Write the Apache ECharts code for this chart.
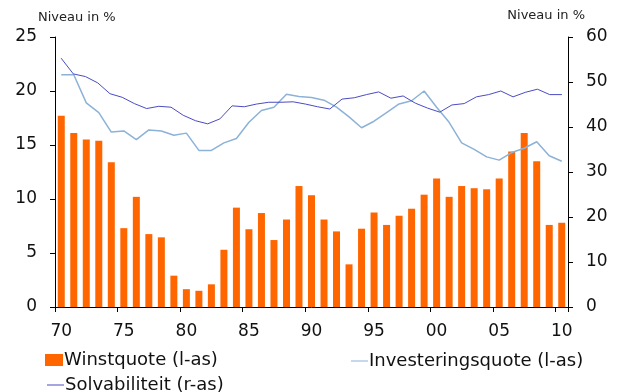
<!DOCTYPE html>
<html>
<head>
<meta charset="utf-8">
<script src="https://cdn.jsdelivr.net/npm/echarts@6/dist/echarts.min.js"></script>
<style>
  html, body { margin: 0; padding: 0; background: #ffffff; }
  #chart { width: 617px; height: 392px; }
</style>
</head>
<body>
<div id="chart"></div>
<script>
// Jaren 1970-2010 (winst- en investeringsquote)
const years = ['70','71','72','73','74','75','76','77','78','79',
               '80','81','82','83','84','85','86','87','88','89',
               '90','91','92','93','94','95','96','97','98','99',
               '00','01','02','03','04','05','06','07','08','09','10'];

// Solvabiliteit loopt een jaar langer door (1970-2011)
const solvYears = ['70','71','72','73','74','75','76','77','78','79',
                   '80','81','82','83','84','85','86','87','88','89',
                   '90','91','92','93','94','95','96','97','98','99',
                   '00','01','02','03','04','05','06','07','08','09','10','11'];

// Winstquote, % (linkeras)
const winstquote = [17.7, 16.1, 15.5, 15.4, 13.4, 7.3, 10.2, 6.75, 6.45, 2.9,
                    1.65, 1.5, 2.1, 5.3, 9.2, 7.2, 8.7, 6.2, 8.1, 11.2,
                    10.35, 8.1, 7.0, 3.95, 7.25, 8.75, 7.6, 8.45, 9.1, 10.4,
                    11.9, 10.2, 11.2, 11.0, 10.9, 11.9, 14.4, 16.1, 13.5, 7.6, 7.8];

// Investeringsquote, % (linkeras)
const investeringsquote = [21.5, 21.5, 18.9, 18.0, 16.2, 16.3, 15.5, 16.4, 16.3, 15.9,
                           16.1, 14.5, 14.5, 15.2, 15.6, 17.1, 18.2, 18.5, 19.7, 19.5,
                           19.4, 19.15, 18.5, 17.6, 16.6, 17.2, 18.0, 18.8, 19.1, 20.0,
                           18.5, 17.1, 15.2, 14.6, 13.9, 13.6, 14.3, 14.7, 15.3, 14.0, 13.5];

// Solvabiliteit, % (rechteras)
const solvabiliteit = [55.3, 51.8, 51.2, 49.8, 47.4, 46.6, 45.2, 44.1, 44.6, 44.4,
                       42.6, 41.4, 40.7, 41.8, 44.7, 44.5, 45.1, 45.5, 45.5, 45.6,
                       45.1, 44.5, 44.0, 46.2, 46.5, 47.2, 47.8, 46.4, 46.9, 45.3,
                       44.2, 43.3, 44.9, 45.2, 46.7, 47.2, 48.0, 46.7, 47.7, 48.4, 47.2, 47.2];

const FONT = "'DejaVu Sans', Verdana, sans-serif";
const INK = '#111111';

const chart = echarts.init(document.getElementById('chart'), null, { renderer: 'canvas' });

const legendBase = {
  orient: 'horizontal',
  selectedMode: false,
  padding: 0,
  textStyle: { fontFamily: FONT, fontSize: 18, color: INK, padding: [0, 0, 0, -4] }
};

chart.setOption({
  animation: false,
  backgroundColor: '#ffffff',
  textStyle: { fontFamily: FONT },
  grid: { left: 55, right: 49, top: 37, bottom: 85, containLabel: false },
  legend: [
    Object.assign({}, legendBase, {
      data: ['Winstquote (l-as)'], left: 45, top: 351,
      itemWidth: 18, itemHeight: 12, icon: 'rect'
    }),
    Object.assign({}, legendBase, {
      data: ['Investeringsquote (l-as)'], left: 351, top: 352,
      itemWidth: 17, itemHeight: 12,
      icon: 'path://M0,5.5 L17,5.5 L17,6.5 L0,6.5 Z'
    }),
    Object.assign({}, legendBase, {
      data: ['Solvabiliteit (r-as)'], left: 47, top: 376,
      itemWidth: 17, itemHeight: 12,
      icon: 'path://M0,5.5 L17,5.5 L17,6.5 L0,6.5 Z'
    })
  ],
  xAxis: [
    {
      type: 'category',
      data: years,
      boundaryGap: true,
      axisLine: { show: true, lineStyle: { color: '#000', width: 1 } },
      axisTick: { show: true, interval: 4, length: 5, lineStyle: { color: '#000' } },
      axisLabel: { interval: 4, fontSize: 17, color: INK, margin: 16, fontFamily: FONT },
      splitLine: { show: false }
    },
    {
      type: 'category',
      data: solvYears,
      boundaryGap: true,
      show: false
    }
  ],
  yAxis: [
    {
      type: 'value',
      position: 'left',
      min: 0, max: 25, interval: 5,
      name: 'Niveau in %',
      nameLocation: 'end',
      nameGap: 19,
      nameTextStyle: { fontFamily: FONT, fontSize: 13, color: '#222', align: 'left',
                       verticalAlign: 'middle', padding: [0, 0, 0, -17] },
      axisLine: { show: true, lineStyle: { color: '#000', width: 1 } },
      axisTick: { show: true, length: 5, lineStyle: { color: '#000' } },
      axisLabel: { fontSize: 17, color: INK, margin: 18, fontFamily: FONT },
      splitLine: { show: false }
    },
    {
      type: 'value',
      position: 'right',
      min: 0, max: 60, interval: 10,
      name: 'Niveau in %',
      nameLocation: 'end',
      nameGap: 21,
      nameTextStyle: { fontFamily: FONT, fontSize: 13, color: '#222', align: 'right',
                       verticalAlign: 'middle', padding: [0, -17, 0, 0] },
      axisLine: { show: true, lineStyle: { color: '#000', width: 1 } },
      axisTick: { show: true, length: 5, lineStyle: { color: '#000' } },
      axisLabel: { fontSize: 17, color: INK, margin: 18, fontFamily: FONT },
      splitLine: { show: false }
    }
  ],
  series: [
    {
      name: 'Winstquote (l-as)',
      type: 'bar',
      xAxisIndex: 0,
      yAxisIndex: 0,
      data: winstquote,
      barWidth: 7,
      itemStyle: { color: '#FF6600' }
    },
    {
      name: 'Investeringsquote (l-as)',
      type: 'line',
      xAxisIndex: 0,
      yAxisIndex: 0,
      data: investeringsquote,
      symbol: 'none',
      lineStyle: { color: '#8CB2D8', width: 1.5 },
      itemStyle: { color: '#8CB2D8' }
    },
    {
      name: 'Solvabiliteit (r-as)',
      type: 'line',
      xAxisIndex: 1,
      yAxisIndex: 1,
      data: solvabiliteit,
      symbol: 'none',
      lineStyle: { color: '#4B4BC4', width: 1 },
      itemStyle: { color: '#4B4BC4' }
    }
  ]
});
</script>
</body>
</html>
